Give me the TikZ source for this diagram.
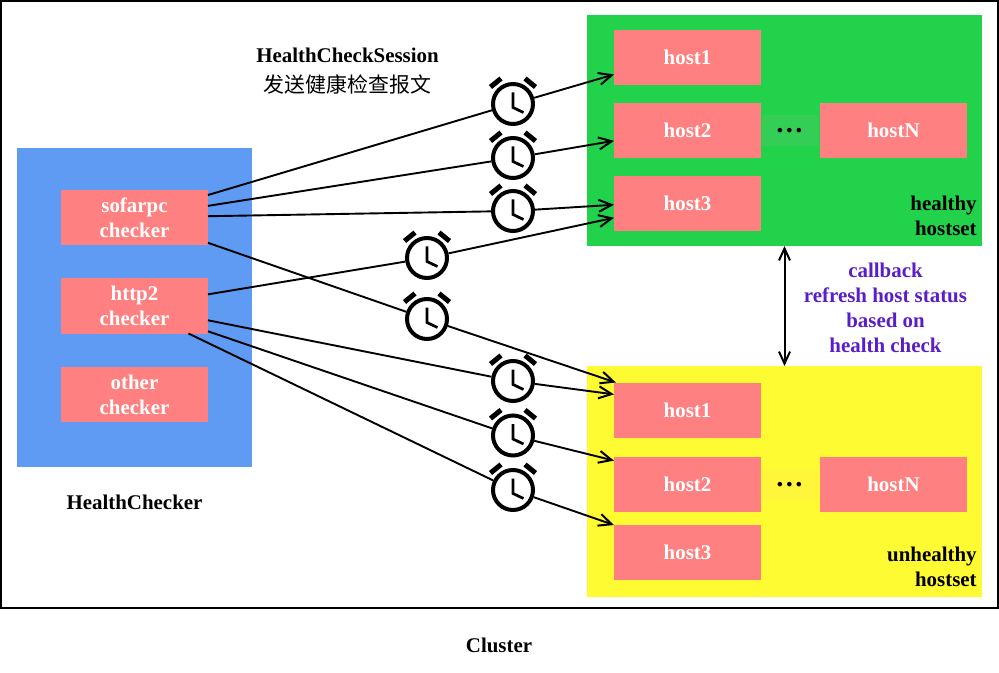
\documentclass[tikz,border=0pt]{standalone}
\usepackage{fontspec}
\setmainfont{Liberation Serif}
\newfontfamily\cjk{Noto Sans CJK SC}
\usepackage{xcolor}
\usetikzlibrary{arrows.meta, positioning}
\definecolor{checkerblue}{RGB}{95,155,243}
\definecolor{healthygreen}{RGB}{34,210,75}
\definecolor{unhealthyyellow}{RGB}{255,251,51}
\definecolor{hostpink}{RGB}{255,128,128}
\definecolor{dotsgreen}{RGB}{52,206,86}
\definecolor{dotsyellow}{RGB}{255,245,58}
\definecolor{callbackpurple}{RGB}{90,30,198}

\begin{document}
\begin{tikzpicture}[
    panel/.style={rectangle, outer sep=0pt, inner sep=0pt},
    box/.style={panel, fill=hostpink, minimum width=2.94cm, minimum height=1.1cm, align=center, text=white, font=\fontsize{11.9}{14.2}\selectfont\bfseries},
    dotsbox/.style={panel, minimum width=1.12cm, minimum height=0.62cm, font=\fontsize{16}{20}\selectfont\bfseries},
    caption/.style={align=center, inner sep=0pt, font=\fontsize{11.9}{14.2}\selectfont\bfseries},
    clock/.style={circle, draw, fill=white, line width=0.08cm, minimum size=0.8cm, inner sep=0pt, outer sep=0.04cm},
    hand/.style={line width=0.055cm},
    bell/.style={line width=0.1cm},
    wire/.style={line width=0.038cm},
    arrow/.style={wire, -{Straight Barb[length=0.26cm, width=0.24cm, line width=0.04cm]}},
    bothways/.style={line width=0.04cm, {Straight Barb[length=0.24cm, width=0.22cm]}-{Straight Barb[length=0.24cm, width=0.22cm]}}
]
\useasboundingbox (0,0) rectangle (19.98,-13.46);

\node[panel, draw, line width=0.04cm, minimum width=19.94cm, minimum height=12.14cm] (cluster) at (9.99,-6.09) {};
\node[panel, fill=checkerblue, minimum width=4.7cm, minimum height=6.38cm] (checkers) at (2.69,-6.15) {};
\node[panel, fill=healthygreen, minimum width=7.9cm, minimum height=4.62cm] (healthy) at (15.69,-2.61) {};
\node[panel, fill=unhealthyyellow, minimum width=7.9cm, minimum height=4.62cm] (unhealthy) at (15.69,-9.63) {};

\node[box] (sofarpc) at (2.69,-4.35) {sofarpc\\checker};
\node[box] (http2) at (2.69,-6.12) {http2\\checker};
\node[box] (other) at (2.69,-7.89) {other\\checker};

\node[box] (hhost1) at (13.75,-1.15) {host1};
\node[box] (hhost2) at (13.75,-2.61) {host2};
\node[box] (hhost3) at (13.75,-4.07) {host3};
\node[box] (hhostN) at (17.87,-2.61) {hostN};
\node[dotsbox, fill=dotsgreen] (hdots) at (15.79,-2.62) {…};

\node[box] (uhost1) at (13.75,-8.2) {host1};
\node[box] (uhost2) at (13.75,-9.69) {host2};
\node[box] (uhost3) at (13.75,-11.05) {host3};
\node[box] (uhostN) at (17.87,-9.69) {hostN};
\node[dotsbox, fill=dotsyellow] (udots) at (15.79,-9.69) {…};

\node[caption] (session) at (6.95,-1.43) {HealthCheckSession\\[2.85pt]{\cjk\mdseries 发送健康检查报文}};
\node[caption] (checkername) at (2.69,-10.04) {HealthChecker};
\node[caption] (clustername) at (9.98,-12.9) {Cluster};
\node[caption, align=right, anchor=east] (healthyname) at (19.54,-4.32) {healthy\\hostset};
\node[caption, align=right, anchor=east] (unhealthyname) at (19.54,-11.34) {unhealthy\\hostset};
\node[caption, text=callbackpurple] (callback) at (17.71,-6.15) {callback\\refresh host status\\based on\\health check};

\foreach \nm/\cx/\cy in {c1/10.26/-2.08, c2/10.26/-3.16, c3/10.26/-4.22, c4/8.54/-5.16, c5/8.54/-6.38, c6/10.26/-7.62, c7/10.26/-8.71, c8/10.26/-9.8} {
    \node[clock] (\nm) at (\cx,\cy) {};
    \draw[hand] (\cx,\cy+0.23) -- (\cx,\cy-0.07) -- (\cx+0.21,\cy-0.17);
    \draw[bell] (\cx-0.45,\cy+0.34) -- (\cx-0.24,\cy+0.51);
    \draw[bell] (\cx+0.45,\cy+0.34) -- (\cx+0.24,\cy+0.51);
}

\draw[wire] (sofarpc.17) -- (c1);
\draw[arrow] (c1) -- (hhost1.193.4);
\draw[wire] (sofarpc.9.65) -- (c2);
\draw[arrow] (c2) -- (hhost2.188.1);
\draw[wire] (sofarpc.1.4) -- (c3);
\draw[arrow] (c3) -- (hhost3.181.7);
\draw[wire] (http2.9.8) -- (c4);
\draw[arrow] (c4) -- (hhost3.191.4);
\draw[wire] (sofarpc.341.8) -- (c5);
\draw[arrow] (c5) -- (uhost1.159.6);
\draw[wire] (http2.349.75) -- (c6);
\draw[arrow] (c6) -- (uhost1.168.5);
\draw[wire] (http2.341.9) -- (c7);
\draw[arrow] (c7) -- (uhost2.162.8);
\draw[wire] (http2.333.2) -- (c8);
\draw[arrow] (c8) -- (uhost3.north west);
\draw[bothways] (healthy) -- (unhealthy);

\end{tikzpicture}
\end{document}
